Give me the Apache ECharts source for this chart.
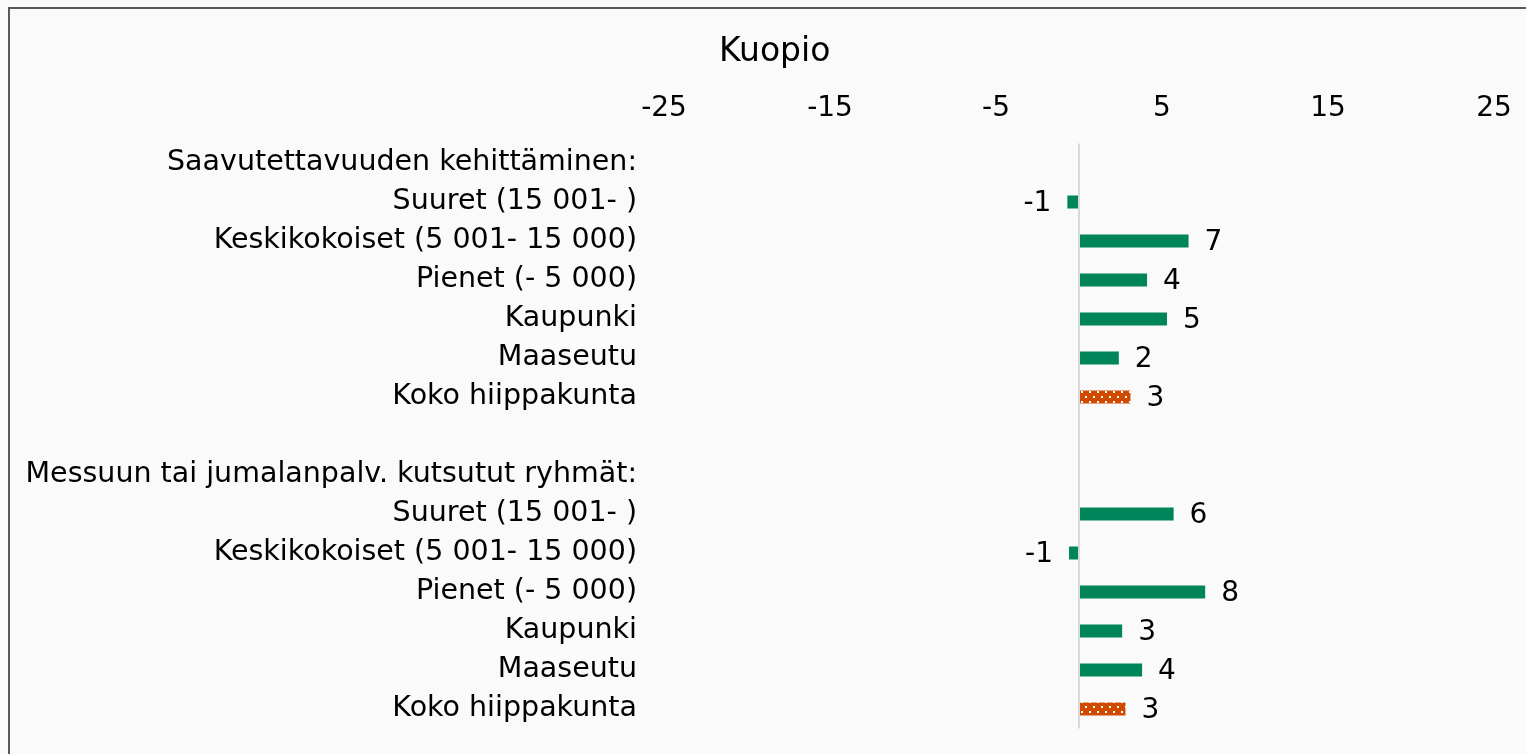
<!DOCTYPE html>
<html lang="fi" style="height: 100%">
<head>
    <meta charset="utf-8">
</head>
<body style="height: 100%; margin: 0; background: #fafafa">
<div id="container" style="height: 100%"></div>

<script type="text/javascript" src="https://fastly.jsdelivr.net/npm/echarts@6/dist/echarts.min.js"></script>

<script type="text/javascript">
    var chartTitle = 'Kuopio';
    var categories = [
        'Saavutettavuuden kehittäminen:',
        'Suuret (15 001- )',
        'Keskikokoiset (5 001- 15 000)',
        'Pienet (- 5 000)',
        'Kaupunki',
        'Maaseutu',
        'Koko hiippakunta',
        '',
        'Messuun tai jumalanpalv. kutsutut ryhmät:',
        'Suuret (15 001- )',
        'Keskikokoiset (5 001- 15 000)',
        'Pienet (- 5 000)',
        'Kaupunki',
        'Maaseutu',
        'Koko hiippakunta'
    ];
    // null = otsikko- tai tyhjä rivi
    var values = [null, -0.7, 6.6, 4.1, 5.3, 2.4, 3.1, null, null, 5.7, -0.6, 7.6, 2.6, 3.8, 2.8];
    var totalLabel = 'Koko hiippakunta';
    var axisMin = -25, axisMax = 25, axisStep = 5, labelStep = 10;

    var green = '#00855a';
    var orange = '#d04a02';

    // pisterasteri koko hiippakunnan palkeille
    var tile = document.createElement('canvas');
    tile.width = 8;
    tile.height = 10;
    var ctx = tile.getContext('2d');
    ctx.fillStyle = orange;
    ctx.fillRect(0, 0, 8, 10);
    ctx.fillStyle = '#ffffff';
    ctx.fillRect(1, 1, 2, 2);
    ctx.fillRect(5, 6, 2, 2);

    var font = '"DejaVu Sans", Verdana, sans-serif';

    var barData = values.map(function (v, i) {
        if (v === null) return null;
        return {
            value: v,
            itemStyle: {
                color: categories[i] === totalLabel ? { image: tile, repeat: 'repeat' } : green
            },
            label: {
                position: v < 0 ? 'left' : 'right'
            }
        };
    });

    var dom = document.getElementById('container');
    var myChart = echarts.init(dom, null, {renderer: 'canvas'});

    var option = {
        backgroundColor: '#fafafa',
        animation: false,
        title: {
            text: chartTitle,
            left: 714,
            top: 31,
            textStyle: {
                fontFamily: font,
                fontSize: 33,
                fontWeight: 'normal',
                color: '#000'
            }
        },
        graphic: [{
            type: 'rect',
            shape: {x: 9, y: 8, width: 1600, height: 900},
            style: {fill: 'none', stroke: '#595959', lineWidth: 2},
            silent: true
        }],
        grid: {
            left: 664,
            right: 32,
            top: 143.5,
            bottom: 25.5,
            containLabel: false
        },
        xAxis: {
            type: 'value',
            position: 'top',
            min: axisMin,
            max: axisMax,
            interval: axisStep,
            axisLine: {show: false},
            axisTick: {show: false},
            splitLine: {show: false},
            axisLabel: {
                margin: 21,
                fontFamily: font,
                fontSize: 28,
                color: '#000',
                formatter: function (v) {
                    return (v - axisMin) % labelStep === 0 ? String(v) : '';
                }
            }
        },
        yAxis: {
            type: 'category',
            inverse: true,
            data: categories,
            axisLine: {show: false, onZero: false},
            axisTick: {show: false},
            axisLabel: {
                margin: 27,
                fontFamily: font,
                fontSize: 28.5,
                color: '#000',
                padding: [4, 0, 0, 0],
                interval: 0
            }
        },
        series: [{
            type: 'bar',
            data: barData,
            barWidth: 13,
            label: {
                show: true,
                distance: 16,
                fontFamily: font,
                fontSize: 28,
                color: '#000',
                offset: [0, 2],
                formatter: function (p) {
                    return Math.round(p.value);
                }
            },
            markLine: {
                silent: true,
                symbol: 'none',
                label: {show: false},
                lineStyle: {color: '#d9d9d9', width: 2, type: 'solid'},
                data: [{xAxis: 0}]
            }
        }]
    };

    myChart.setOption(option);
    window.addEventListener('resize', myChart.resize);
</script>
</body>
</html>
